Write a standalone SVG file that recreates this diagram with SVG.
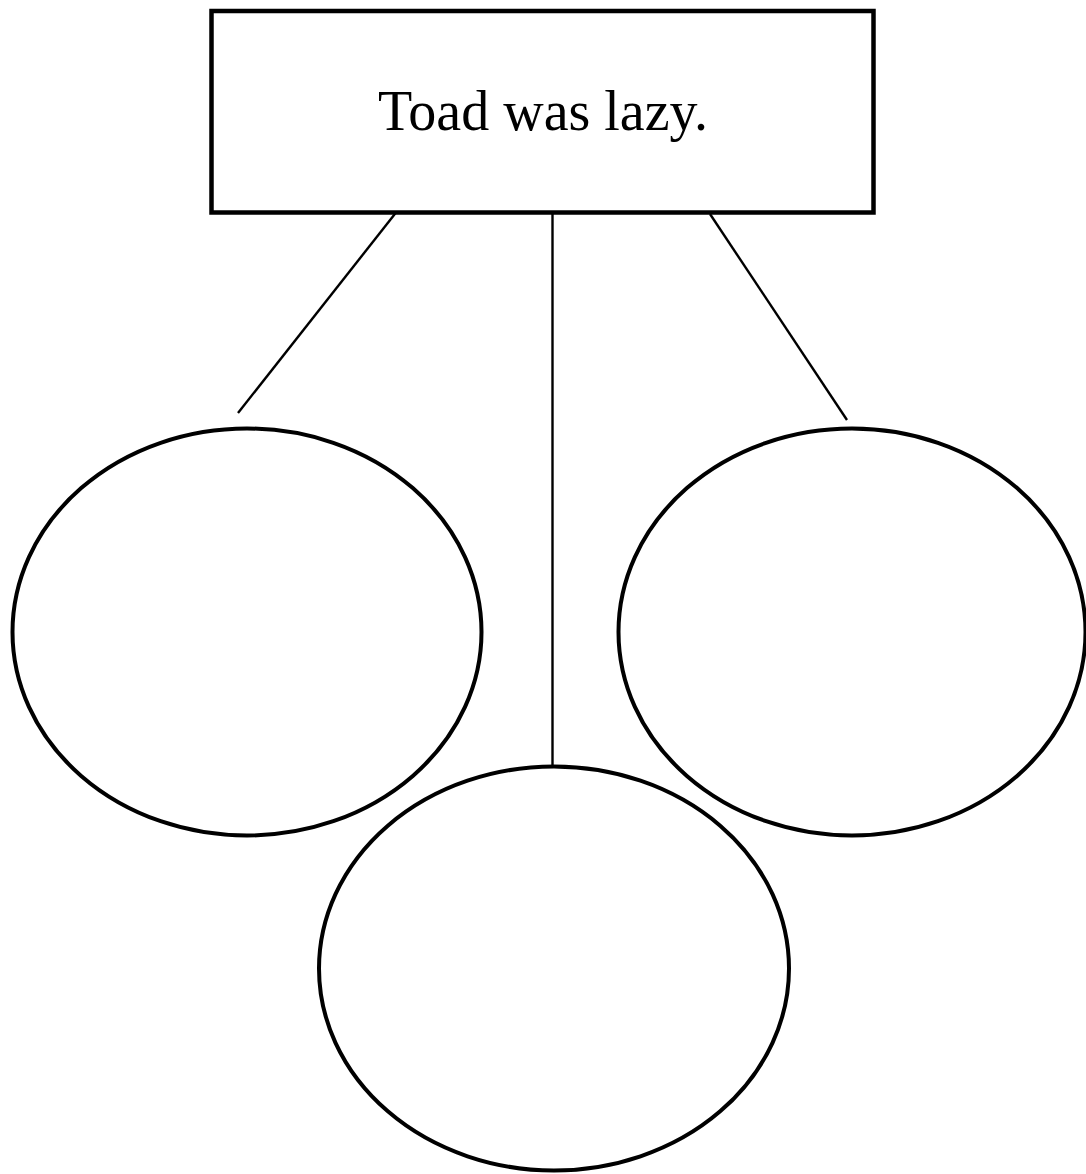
<svg xmlns="http://www.w3.org/2000/svg" width="1086" height="1174" viewBox="0 0 1086 1174">
<style>
.box{fill:#fff;stroke:#000;stroke-width:4.5}
.ell{fill:none;stroke:#000;stroke-width:4}
.con{stroke:#000;stroke-width:2.4;fill:none}
.lbl{font-family:"Liberation Serif","Times New Roman",serif;font-size:56px;fill:#000}
</style>
<rect width="1086" height="1174" fill="#fff"/>
<g id="connectors">
<line class="con" x1="398" y1="210" x2="238" y2="413"/>
<line class="con" x1="552.5" y1="212" x2="552.5" y2="766"/>
<line class="con" x1="710" y1="214" x2="847" y2="420"/>
</g>
<g id="top">
<rect class="box" x="211.5" y="11" width="662" height="201.5"/>
<text class="lbl" x="543" y="130" text-anchor="middle">Toad was lazy.</text>
</g>
<g id="left">
<ellipse class="ell" cx="247" cy="632" rx="234.5" ry="203.5"/>
</g>
<g id="right">
<ellipse class="ell" cx="852" cy="632" rx="233.5" ry="203.5"/>
</g>
<g id="bottom">
<ellipse class="ell" cx="554" cy="968.5" rx="235" ry="202"/>
</g>
</svg>
